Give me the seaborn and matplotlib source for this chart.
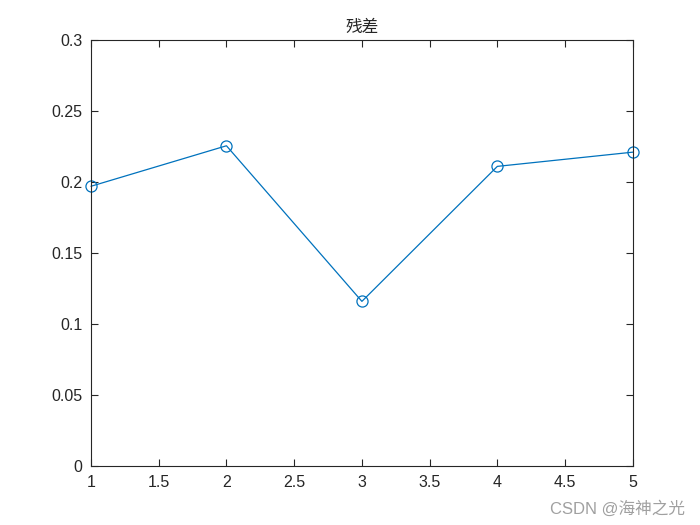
import pandas as pd
import matplotlib
matplotlib.use('Agg')
import matplotlib.pyplot as plt
import seaborn as sns

# 数据
x_vals = [1, 2, 3, 4, 5]
residual = [0.197, 0.2255, 0.116, 0.211, 0.221]
title_text = '残差'
watermark = 'CSDN @海神之光'

df = pd.DataFrame({'x': x_vals, 'residual': residual})

sns.set_theme(style='white')
plt.rcParams['font.family'] = ['Liberation Sans', 'Noto Sans CJK SC', 'DejaVu Sans']

fig = plt.figure(figsize=(7, 5.25), dpi=100)
ax = fig.add_axes([0.13, 0.112, 0.774, 0.812])

sns.lineplot(data=df, x='x', y='residual', ax=ax, color='#0072BD', linewidth=0.9,
             marker='o', markersize=8, markerfacecolor='none',
             markeredgecolor='#0072BD', markeredgewidth=0.9, clip_on=False)

ax.set_xlim(1, 5)
ax.set_ylim(0, 0.3)
ax.set_xticks([1, 1.5, 2, 2.5, 3, 3.5, 4, 4.5, 5])
ax.set_xticklabels(['1', '1.5', '2', '2.5', '3', '3.5', '4', '4.5', '5'])
ax.set_yticks([0, 0.05, 0.1, 0.15, 0.2, 0.25, 0.3])
ax.set_yticklabels(['0', '0.05', '0.1', '0.15', '0.2', '0.25', '0.3'])
ax.set_xlabel('')
ax.set_ylabel('')
ax.tick_params(direction='in', length=5, width=0.8, colors='#262626',
               labelsize=11.5, top=True, right=True, bottom=True, left=True,
               pad=6)
for s in ax.spines.values():
    s.set_color('#262626')
    s.set_linewidth(0.8)
ax.set_title(title_text, fontsize=12, family=['Noto Sans CJK SC', 'DejaVu Sans'],
             color='#262626', pad=6)

fig.text(0.978, 0.016, watermark, ha='right', va='bottom', fontsize=12,
         color='#a0a0a0', family=['Liberation Sans', 'Noto Sans CJK SC'])

fig.savefig('out.png', dpi=100)
